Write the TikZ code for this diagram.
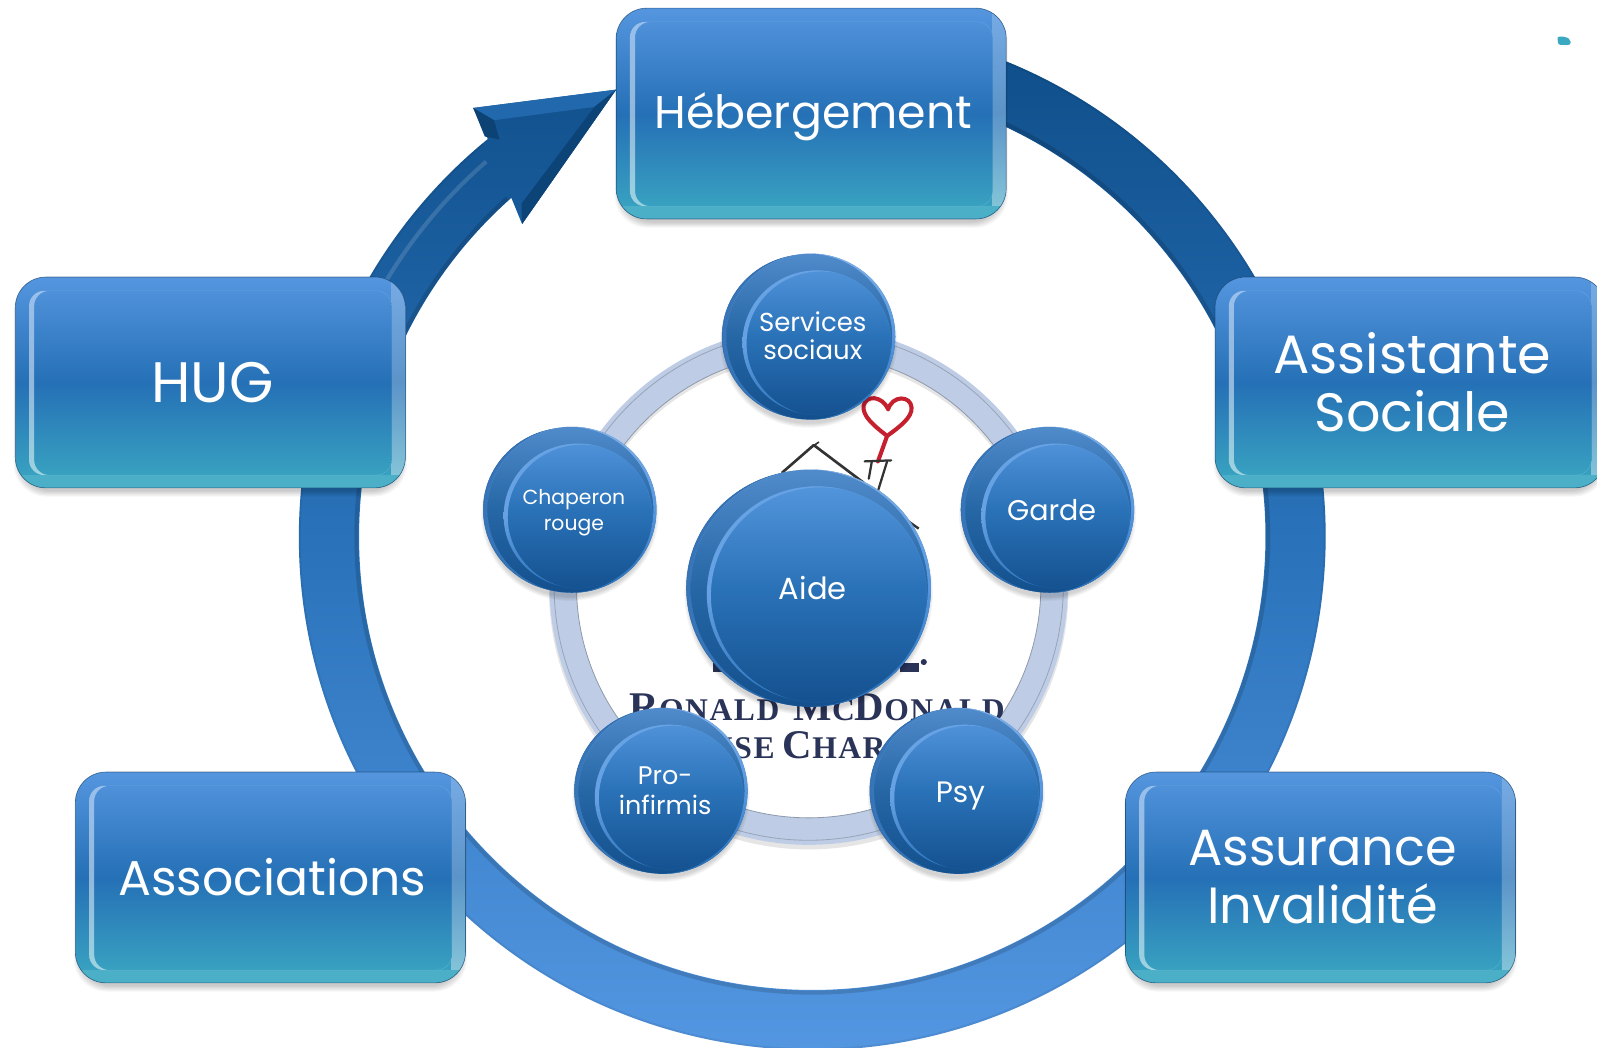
\documentclass[tikz,border=0pt]{standalone}
\usepackage{fontspec}
\setmainfont{Poppins}
\newfontfamily\logofont{Liberation Serif}[LetterSpace=5,BoldFont={Liberation Serif Bold}]
\usetikzlibrary{shapes.geometric}
\definecolor{boxT}{HTML}{5596DF}
\definecolor{boxM}{HTML}{2570B6}
\definecolor{boxB}{HTML}{3BA8C2}
\definecolor{ringT}{HTML}{0E4D88}
\definecolor{ringM}{HTML}{2B74BC}
\definecolor{ringB}{HTML}{5799E4}
\definecolor{discT}{HTML}{5A9BE2}
\definecolor{discM}{HTML}{2A72B8}
\definecolor{discB}{HTML}{134F8D}
\definecolor{softring}{HTML}{BECDE5}
\definecolor{logoink}{HTML}{2A3358}
\definecolor{heartred}{HTML}{C4202E}
\tikzset{
  boxlabel/.style={draw=none,rounded corners=30pt,rectangle,
    minimum width=379pt,minimum height=207pt,inner sep=0pt,outer sep=0pt,
    text=white,align=center},
  disclabel/.style={draw=none,ellipse,inner sep=0pt,outer sep=0pt,
    text=white,align=center},
  softshadow/.style={fill=black,opacity=.035},
}
\newcommand{\fsz}[2]{\fontsize{#1}{#2}\selectfont}
\newcommand{\glossbox}[5]{%
  \begin{scope}[shift={(#2,#3)}]
    \foreach \k in {0,1,2,3,4,5}{
      \fill[softshadow,rounded corners=32pt]
        (-188-\k,-98-\k) rectangle (188+\k,107+\k);
    }
    \begin{scope}
      \clip[rounded corners=30pt] (-191.5,-103.5) rectangle (191.5,103.5);
      \shade[top color=boxT,bottom color=boxB,middle color=boxM] (-192,-104) rectangle (192,104);
      \shade[top color=boxT!80!white,bottom color=boxB!60!white,middle color=boxM!75!white]
        (178,-104) rectangle (192,104);
      \fill[boxB!92!white] (-192,91) rectangle (192,104);
      \begin{scope}
        \clip[rounded corners=15pt] (-178,-90) rectangle (178,91);
        \shade[top color=boxT,bottom color=boxB,middle color=boxM] (-192,-104) rectangle (192,104);
        \shade[even odd rule,top color=boxT!60!white,bottom color=boxB!50!white,middle color=boxM!50!white]
          [rounded corners=15pt] (-178,-90) rectangle (178,91)
          (-173,-90) rectangle (183,91);
      \end{scope}
    \end{scope}
    \draw[boxM!60!black,line width=.6pt,opacity=.7,rounded corners=30pt] (-191.5,-103.5) rectangle (191.5,103.5);
    \node[boxlabel,#5] (#1) at (2,0) {#4};
  \end{scope}}
\newcommand{\glossdisc}[7]{%
  \begin{scope}[shift={(#2,#3)}]
    \foreach \k in {0,1,2,3,4}{
      \fill[softshadow] (0,5) ellipse ({#4-2+\k} and {#5-1+\k});
    }
    \fill[discT!50!discB,draw=discB!70!discT,line width=.5pt] (-2,0) ellipse ({#4-2} and {#5-1});
    \begin{scope}
      \clip (2,0) ellipse ({#4-2} and {#5});
      \shade[top color=discT!90!black,bottom color=discB,middle color=discM!90!black]
        (-#4-2,-#5-2) rectangle (#4+4,#5+2);
      \shade[even odd rule,top color=boxT!75!white,bottom color=discM,middle color=boxT]
        (2,0) ellipse ({#4-2} and {#5}) (-1,0) ellipse ({#4-2} and {#5});
      \begin{scope}
        \clip (8,6) ellipse ({#4-12} and {#5-10.5});
        \shade[top color=discT,bottom color=discB,middle color=discM]
          (-#4-2,-#5-2) rectangle (#4+4,#5+2);
        \shade[even odd rule,top color=discT!92!white,bottom color=discM,middle color=boxT!90!white]
          (8,6) ellipse ({#4-12} and {#5-10.5})
          (12,7) ellipse ({#4-12} and {#5-10.5});
      \end{scope}
    \end{scope}
    \node[disclabel,#7,minimum width={2*#4-8},minimum height={2*#5}] (#1) at (4,0) {#6};
  \end{scope}}
\newcommand{\logoL}[1]{{\fontsize{40}{40}\selectfont #1}}
\newcommand{\logoS}[1]{{\fontsize{31}{31}\selectfont #1}}
\begin{document}
\begin{tikzpicture}[x=1pt,y=-1pt]
  \clip (0,0) rectangle (1568,1028);
  \fill[white] (0,0) rectangle (1568,1028);

  % large ring with arrowhead
  \coordinate (headA) at (464.6,106);
  \coordinate (headTip) at (605,88);
  \coordinate (headB) at (512.6,220);
  \coordinate (facetA) at (485,118);
  \coordinate (facetB) at (583.6,105);
  \coordinate (facetC) at (490.4,137);
  \coordinate (facetD) at (476,134);
  \coordinate (facetE) at (512,200);
  \begin{scope}[shift={(797.5,527)}]
    \shade[top color=ringT,bottom color=ringB,middle color=ringM]
      (-80:504) arc[start angle=-80,end angle=230.8,radius=504]
      -- (headA) -- (headTip) -- (headB)
      -- (228.4:445) arc[start angle=228.4,end angle=-80,radius=445] -- cycle;
    \draw[white,opacity=.14,line width=4pt] (192:488) arc[start angle=192,end angle=229,radius=488];
    \draw[black,opacity=.14,line width=4pt] (-70:447.5) arc[start angle=-70,end angle=228,radius=447.5];
    \draw[black,opacity=.06,line width=2pt] (-70:503) arc[start angle=-70,end angle=230,radius=503];
  \end{scope}
  \fill[ringM!70!ringT] (headA) -- (headTip) -- (facetB) -- (facetA) -- cycle;
  \fill[ringT!85!black] (headA) -- (facetA) -- (facetC) -- (facetD) -- cycle;
  \fill[ringT!88!black] (headTip) -- (headB) -- (facetE) -- (facetB) -- cycle;

  % pale inner ring
  \begin{scope}[shift={(794,575)}]
    \fill[black,opacity=.10,even odd rule] (0,4) circle[radius=255] (0,4) circle[radius=228];
    \fill[softring,even odd rule] (0,0) circle[radius=254.5] (0,0) circle[radius=228];
    \draw[softring!75!black,line width=.8pt] (0,0) circle[radius=228];
    \draw[softring!80!black,line width=.8pt] (0,0) circle[radius=250];
  \end{scope}

  % logo fragments behind the discs
  \draw[heartred,line width=4pt,line cap=round,line join=round]
    (871,428) .. controls (858,418) and (846,408) .. (848,398)
    .. controls (850,388) and (866,388) .. (872,402)
    .. controls (876,388) and (894,388) .. (895,400)
    .. controls (896,410) and (882,420) .. (871,428) -- (862,453);
  \draw[black!80,line width=2.6pt,line cap=round,line join=round]
    (768,464) -- (799,437) -- (848,474);
  \draw[black!80,line width=1.6pt] (794,441) -- (804,434);
  \draw[black!80,line width=2.2pt,line cap=round] (849,453) -- (875,452);
  \draw[black!80,line width=2.2pt,line cap=round] (856,453) -- (853,470);
  \draw[black!80,line width=2.2pt,line cap=round] (871,453) -- (862,482);
  \draw[black!80,line width=2.4pt] (892,512) -- (902,519);
  \fill[logoink] (700,651) rectangle (714,660);
  \fill[logoink] (884,651) rectangle (902,660);
  \fill[logoink] (907,650) circle[radius=3];
  \node[anchor=base west,inner sep=0pt,text=logoink] (logoA) at (618,707)
    {\logofont\bfseries\logoL{R}\logoS{ONALD}\hspace{14pt}\logoL{M}\logoS{C}\logoL{D}\logoS{ONALD}};
  \node[anchor=base west,inner sep=0pt,text=logoink] (logoB) at (697,745)
    {\logofont\bfseries\logoS{USE}\hspace{8pt}\logoL{C}\logoS{HAR}};

  % satellite discs
  \glossdisc{services}{794}{330.5}{85}{81.5}{Services\\sociaux}{font=\fsz{25.5}{27},yshift=1pt}
  \glossdisc{garde}{1028.5}{500.5}{85}{81.5}{Garde}{font=\fsz{28}{30}}
  \glossdisc{chaperon}{559.5}{500.5}{85}{81.5}{Chaperon\\rouge}{font=\fsz{20}{25},yshift=-3pt}
  \glossdisc{proinf}{649}{776.5}{85}{81.5}{Pro-\\infirmis}{font=\fsz{25}{29}}
  \glossdisc{psy}{939}{776.5}{85}{81.5}{Psy}{font=\fsz{29}{30},yshift=-5pt}
  \glossdisc{aide}{794}{577.5}{120}{116.5}{Aide}{font=\fsz{30}{30}}

  % outer boxes
  \glossbox{heberg}{796.5}{111.5}{Hébergement}{font=\fsz{45}{57},yshift=-3pt}
  \glossbox{hug}{206.5}{375.5}{HUG}{font=\fsz{56}{57}}
  \glossbox{assist}{1384.5}{375.5}{Assistante\\Sociale}{font=\fsz{53}{57}}
  \glossbox{assoc}{265.5}{861.5}{Associations}{font=\fsz{48}{57}}
  \glossbox{assur}{1296.5}{861.5}{Assurance\\Invalidité}{font=\fsz{50}{57}}

  % stray teal speck
  \fill[boxB,rounded corners=2pt] (1529,36) -- (1537,36) -- (1542,39) -- (1542,44) -- (1530,44) -- cycle;
\end{tikzpicture}
\end{document}
